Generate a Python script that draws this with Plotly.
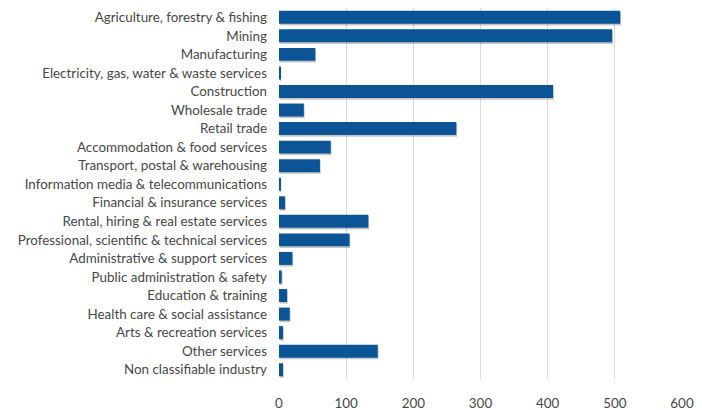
import plotly.graph_objects as go

# Industries, listed top to bottom
industries = [
    "Agriculture, forestry & fishing",
    "Mining",
    "Manufacturing",
    "Electricity, gas, water & waste services",
    "Construction",
    "Wholesale trade",
    "Retail trade",
    "Accommodation & food services",
    "Transport, postal & warehousing",
    "Information media & telecommunications",
    "Financial & insurance services",
    "Rental, hiring & real estate services",
    "Professional, scientific & technical services",
    "Administrative & support services",
    "Public administration & safety",
    "Education & training",
    "Health care & social assistance",
    "Arts & recreation services",
    "Other services",
    "Non classifiable industry",
]

counts = [508, 496, 54, 2, 408, 37, 264, 77, 61, 2, 9, 133, 105, 20, 4, 12, 16, 6, 147, 6]

x_ticks = [0, 100, 200, 300, 400, 500, 600]

BAR_COLOR = "#0b5597"
TEXT_COLOR = "#474747"
GRID_COLOR = "#d9d9d9"
BAR_WIDTH = 0.7

fig = go.Figure()

# soft drop shadow drawn behind each bar
fig.add_trace(go.Bar(
    x=counts,
    y=industries,
    orientation="h",
    base=1.2,
    width=BAR_WIDTH,
    offset=-BAR_WIDTH / 2 + 0.09,
    marker=dict(color="rgba(0,0,0,0.22)", line=dict(width=0)),
    hoverinfo="skip",
    showlegend=False,
))

fig.add_trace(go.Bar(
    x=counts,
    y=industries,
    orientation="h",
    width=BAR_WIDTH,
    offset=-BAR_WIDTH / 2,
    marker=dict(color=BAR_COLOR, line=dict(width=0)),
    showlegend=False,
))

fig.update_layout(
    width=702,
    height=410,
    margin=dict(l=279, r=20, t=8, b=31),
    paper_bgcolor="white",
    plot_bgcolor="white",
    barmode="overlay",
    font=dict(family="Lato, 'Open Sans', sans-serif", size=13.4, color=TEXT_COLOR),
    xaxis=dict(
        range=[0, 600],
        tickvals=x_ticks,
        ticktext=[str(v) for v in x_ticks],
        showgrid=True,
        gridcolor=GRID_COLOR,
        gridwidth=1,
        zeroline=False,
        showline=False,
        ticks="",
        ticklabelstandoff=15,
        automargin=False,
        fixedrange=True,
    ),
    yaxis=dict(
        categoryorder="array",
        categoryarray=industries,
        autorange="reversed",
        showgrid=False,
        zeroline=False,
        showline=False,
        ticks="",
        ticklabelstandoff=11,
        automargin=False,
        fixedrange=True,
    ),
)

fig.write_html("out.html")
